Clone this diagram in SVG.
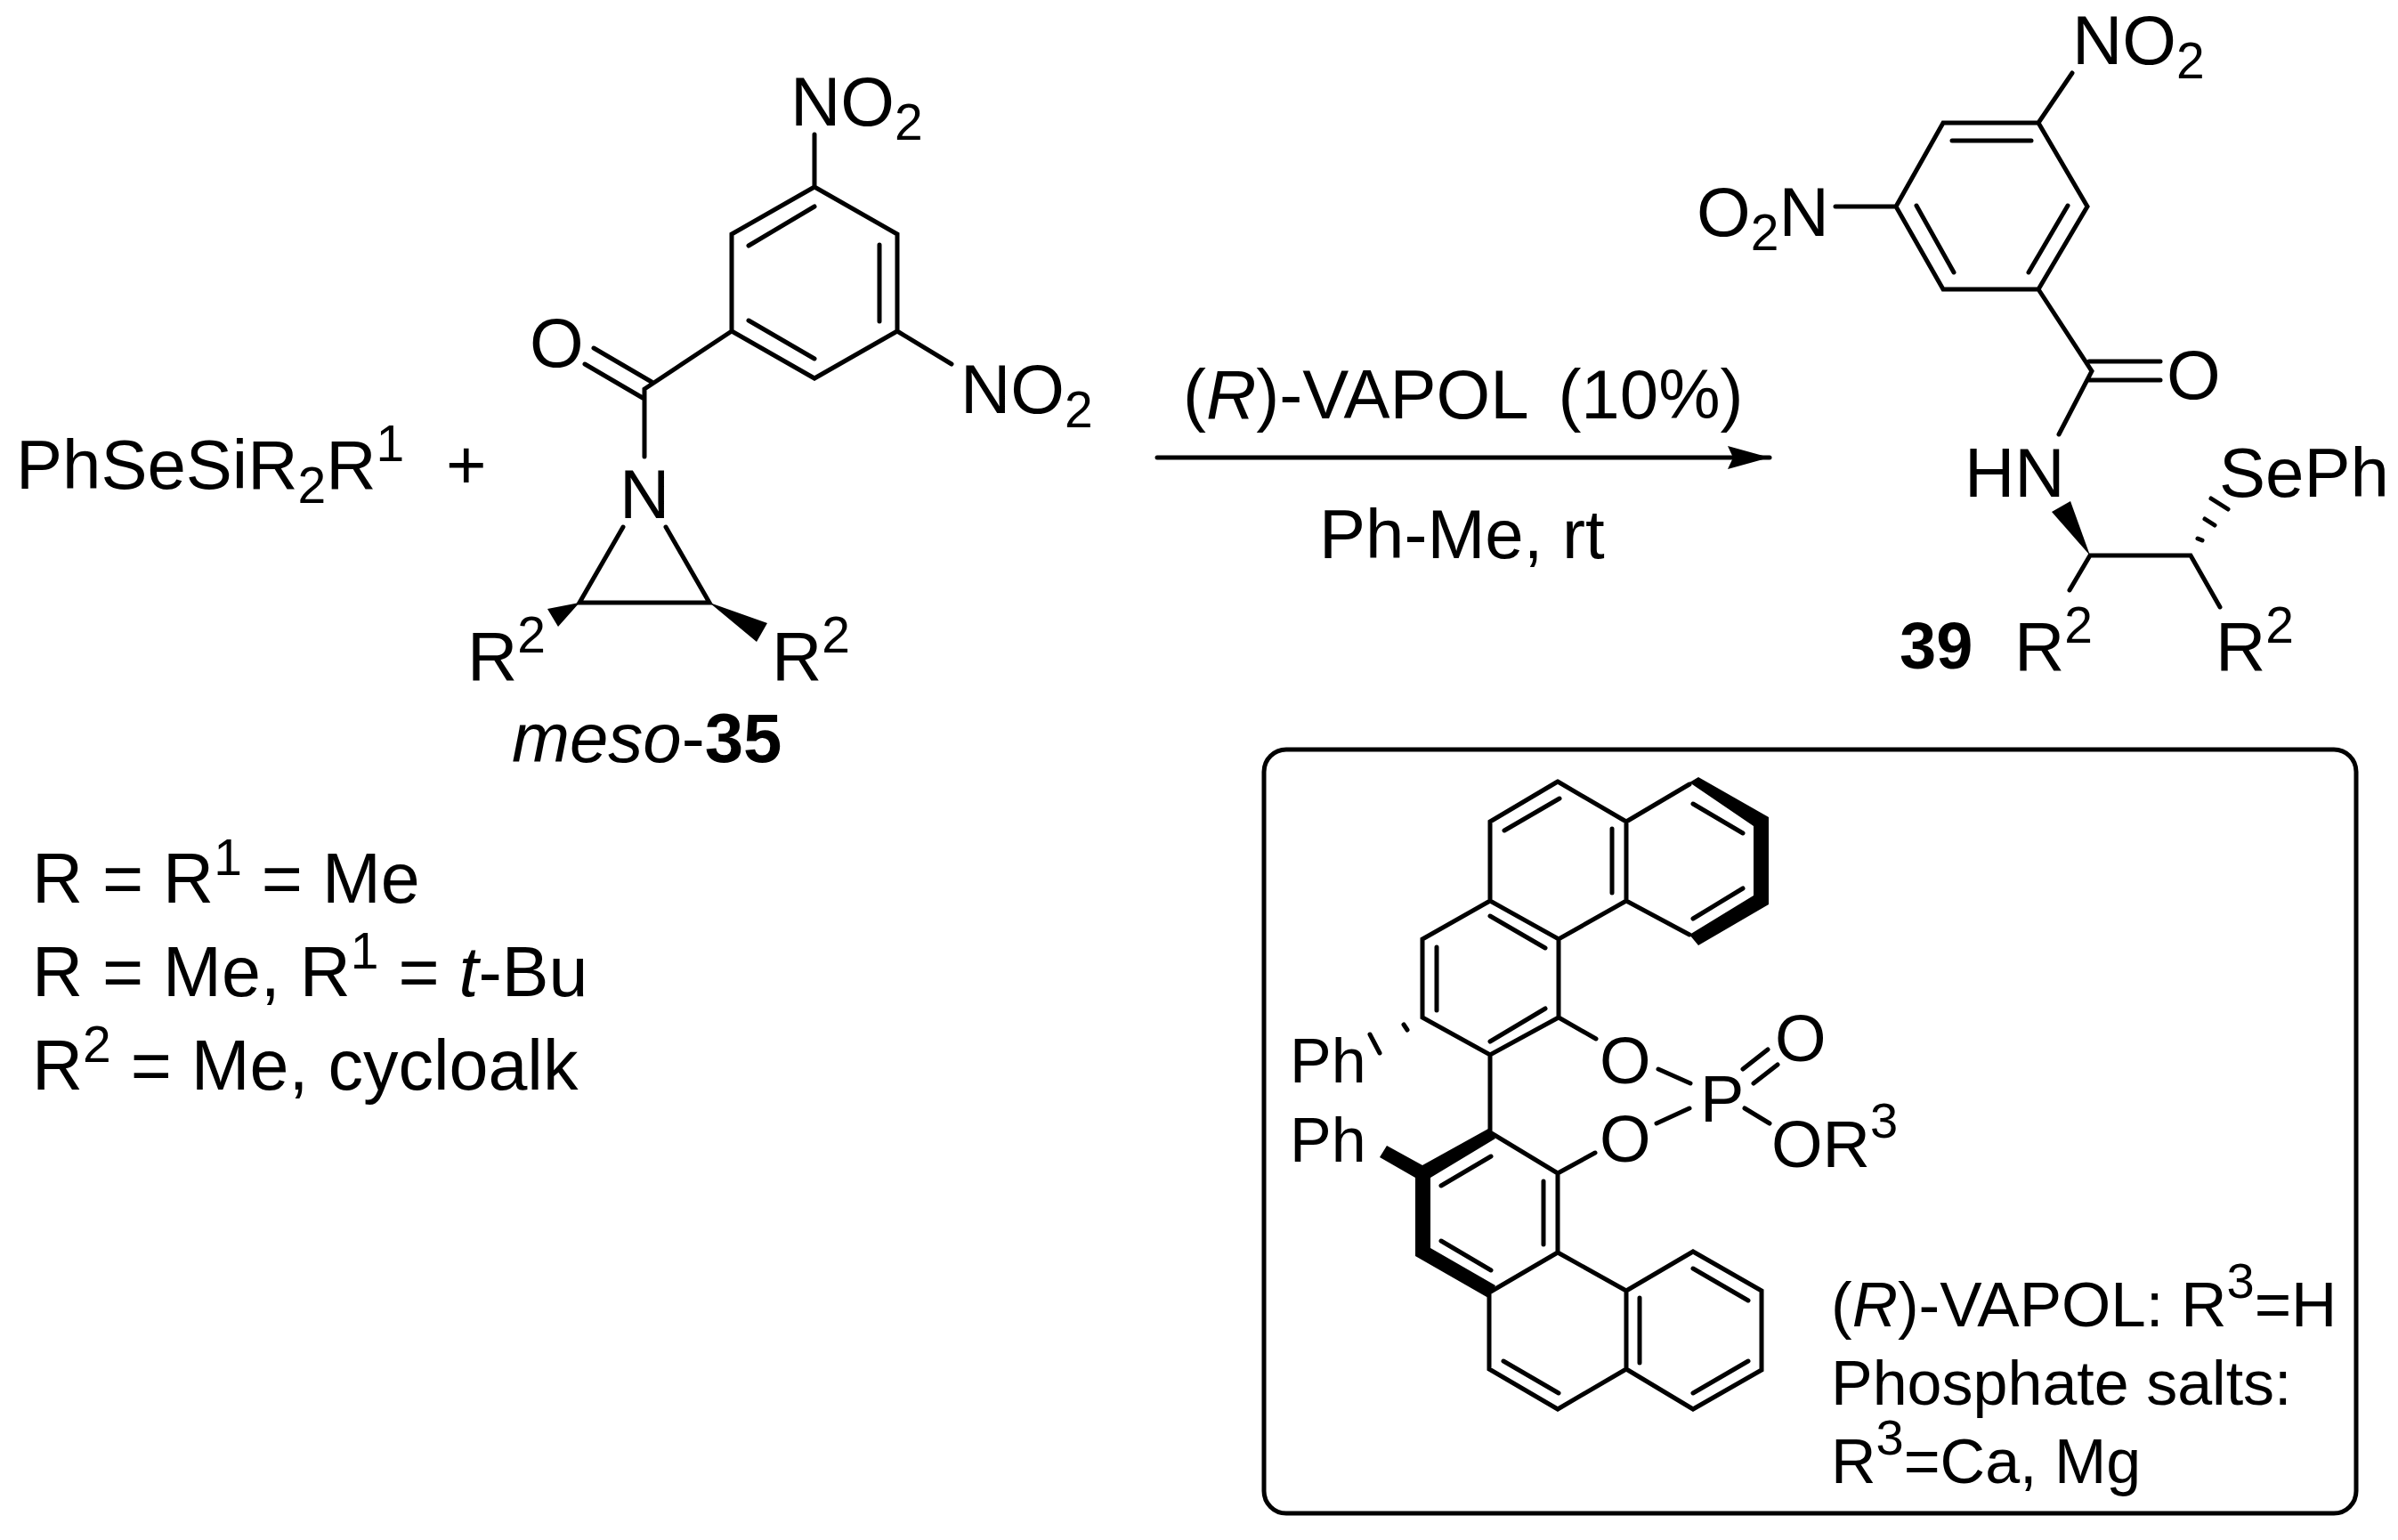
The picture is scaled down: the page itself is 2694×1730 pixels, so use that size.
<svg xmlns="http://www.w3.org/2000/svg" width="2694" height="1730" viewBox="0 0 2694 1730">
<style>
text{font-family:"Liberation Sans",Arial,sans-serif;font-size:78px;fill:#000;white-space:pre}
.l{font-size:79px}
.s{font-size:70px}
.a{font-size:74px}
.m{font-size:57px}
.n{font-size:56px}
.b{font-weight:700}
.i{font-style:italic}
.bond{fill:none;stroke:#000;stroke-width:5;stroke-linecap:round;stroke-linejoin:miter}
.hash{fill:none;stroke:#000;stroke-width:5;stroke-linecap:round}
</style>
<defs>
<marker id="arrow" markerUnits="userSpaceOnUse" markerWidth="50" markerHeight="30" refX="47" refY="13" orient="auto"><path d="M0 0L47 13L0 26L6 13Z" fill="#000"/></marker>
</defs>
<rect width="2694" height="1730" fill="#fff"/>
<g id="connectors">
<path class="bond" d="M1300 514H1988" marker-end="url(#arrow)"/>
</g>
<g id="reagent">
<text x="18" y="549">PhSeSiR<tspan class="m" dy="16">2</tspan><tspan dy="-16">R</tspan><tspan class="m" dy="-31">1</tspan></text>
<text x="501" y="549">+</text>
</g>
<g id="meso-35">
<path class="bond" d="M915 151V210L1008 263V372L915 425L822 372V263L915 210M841 276L915 232M988 275V361M841 360L915 403M1008 372L1069 409M822 372L724 437V513M657 409L722 447M667 391L732 429M700 592L651 677H797L748 592"/>
<path d="M651 677L615 684L627 704ZM797 677L862 700L850 721Z" fill="#000"/>
<text x="888" y="141">NO<tspan class="m" dy="16">2</tspan></text>
<text x="1079" y="464">NO<tspan class="m" dy="16">2</tspan></text>
<text x="595" y="412">O</text>
<text x="696" y="582">N</text>
<text x="525" y="764">R<tspan class="m" dy="-31">2</tspan></text>
<text x="867" y="764">R<tspan class="m" dy="-31">2</tspan></text>
<text x="575" y="856"><tspan class="i">meso</tspan>-<tspan class="b">35</tspan></text>
</g>
<g id="conditions">
<text x="1329" y="470" word-spacing="14">(<tspan class="i">R</tspan>)-VAPOL (10%)</text>
<text x="1482" y="627">Ph-Me, rt</text>
</g>
<g id="legend">
<text class="l" x="36" y="1014">R = R<tspan class="m" dy="-31">1</tspan><tspan dy="31"> = Me</tspan></text>
<text class="l" x="36" y="1119">R = Me, R<tspan class="m" dy="-31">1</tspan><tspan dy="31"> = </tspan><tspan class="i">t</tspan>-Bu</text>
<text class="l" x="36" y="1224">R<tspan class="m" dy="-31">2</tspan><tspan dy="31"> = Me, cycloalk</tspan></text>
</g>
<g id="product-39">
<path class="bond" d="M2328 82L2290 138H2183L2130 232L2183 325H2290L2345 232L2290 138M2193 158H2282M2153 231L2195 306M2323 231L2279 306M2062 232H2130M2290 325L2350 417L2313 488M2347 406H2427M2347 427H2427M2325 663L2348 624H2461L2494 682"/>
<path d="M2348 624L2305 575L2326 563Z" fill="#000"/>
<path class="hash" d="M2469 605L2474 607M2477 583L2488 590M2484 560L2503 572"/>
<text x="2328" y="72">NO<tspan class="m" dy="16">2</tspan></text>
<text x="1906" y="265">O<tspan class="m" dy="16">2</tspan><tspan dy="-16">N</tspan></text>
<text x="2434" y="448">O</text>
<text x="2207" y="558">HN</text>
<text x="2493" y="558">SePh</text>
<text x="2263" y="753">R<tspan class="m" dy="-31">2</tspan></text>
<text x="2489" y="753">R<tspan class="m" dy="-31">2</tspan></text>
<text class="b" x="2134" y="751" style="font-size:74px">39</text>
</g>
<g id="vapol-box">
<rect class="bond" x="1420" y="842" width="1227" height="858" rx="25" ry="25"/>
<path class="bond" d="M1750 878L1674 923V1012L1751 1055L1827 1012V923L1750 878M1827 923L1898 881M1827 1012L1898 1050M1690 933L1752 897M1811 931V1003M1902 903L1958 936M1902 1032L1958 998M1674 1012L1598 1055V1143L1674 1185L1751 1143V1055M1674 1029L1736 1065M1614 1064V1135M1674 1170L1736 1133M1674 1185V1272L1750 1318V1407L1673 1452V1538L1750 1583L1827 1538V1450L1750 1407M1827 1450L1902 1406L1979 1450V1539L1902 1583L1827 1538M1619 1332L1675 1299M1734 1327V1398M1619 1394L1675 1427M1689 1529L1751 1565M1842 1458V1531M1902 1565L1964 1529M1902 1425L1964 1461M1751 1143L1793 1167M1750 1318L1792 1295M1863 1201L1899 1217M1861 1262L1898 1245M1958 1201L1986 1179M1970 1217L1997 1196M1960 1245L1988 1262"/>
<path d="M1898 879L1908 873L1987 918V1016L1908 1062L1898 1050L1970 1006V928Z" fill="#000"/>
<path d="M1672 1268L1598 1309L1558 1287L1550 1300L1590 1323V1411L1672 1458L1680 1444L1607 1402V1323L1680 1279Z" fill="#000"/>
<path class="hash" d="M1577 1151L1581 1157M1539 1162L1550 1183"/>
<text class="s" x="1449" y="1216">Ph</text>
<text class="s" x="1449" y="1305">Ph</text>
<text class="a" x="1797" y="1217">O</text>
<text class="a" x="1797" y="1305">O</text>
<text class="a" x="1994" y="1192">O</text>
<text class="a" x="1910" y="1260">P</text>
<text class="a" x="1990" y="1311">OR<tspan class="n" dy="-33">3</tspan></text>
<text class="s" x="2057" y="1490" style="font-size:71px">(<tspan class="i">R</tspan>)-VAPOL: R<tspan class="n" dy="-32">3</tspan><tspan dy="32">=H</tspan></text>
<text class="s" x="2057" y="1578">Phosphate salts:</text>
<text class="s" x="2057" y="1666">R<tspan class="n" dy="-32">3</tspan><tspan dy="32">=Ca, Mg</tspan></text>
</g>
</svg>
